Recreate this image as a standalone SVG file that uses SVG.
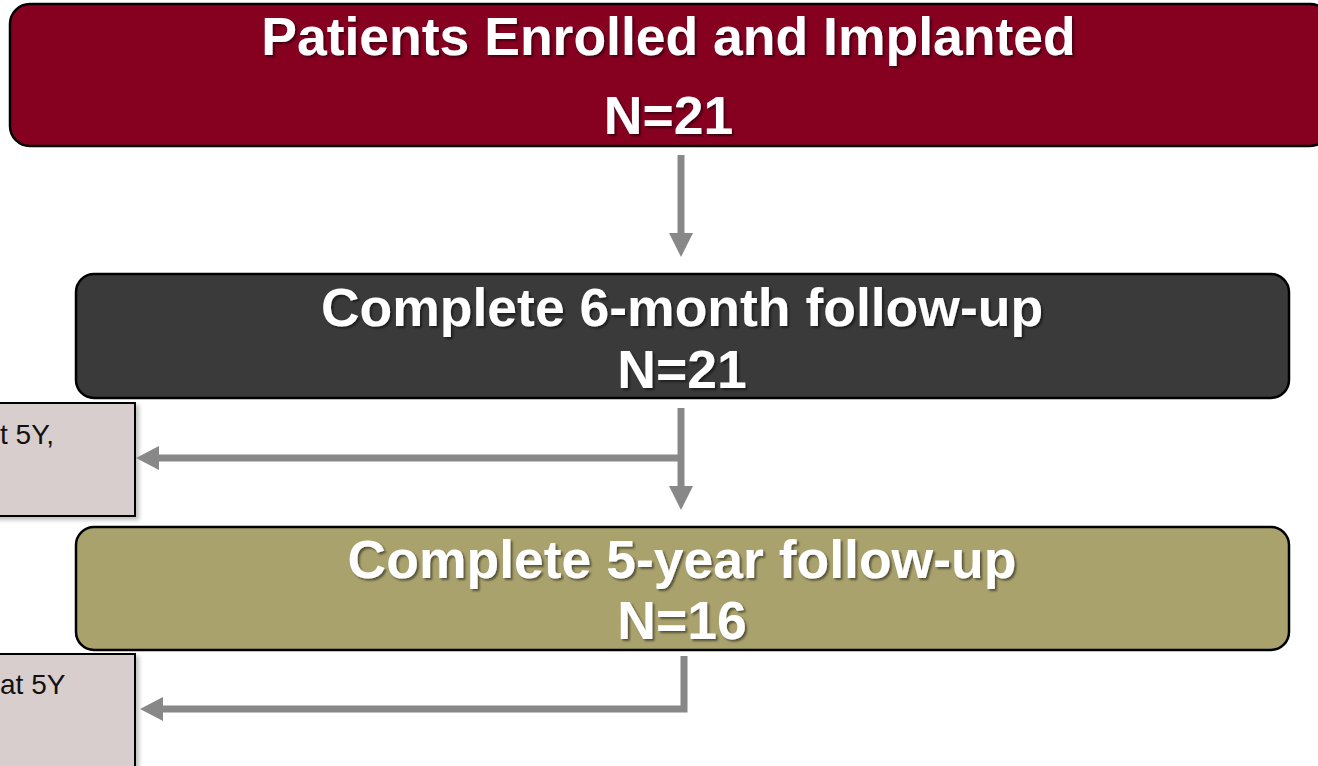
<svg xmlns="http://www.w3.org/2000/svg" width="1318" height="766" viewBox="0 0 1318 766">
<defs>
<filter id="ts" x="-5%" y="-20%" width="110%" height="140%">
<feDropShadow dx="2" dy="2" stdDeviation="1" flood-color="#000" flood-opacity="0.5"/>
</filter>
<filter id="bs" x="-5%" y="-5%" width="115%" height="115%">
<feDropShadow dx="3" dy="3" stdDeviation="2" flood-color="#000" flood-opacity="0.25"/>
</filter>
<style>
.big{font-family:"Liberation Sans",Arial,sans-serif;font-weight:bold;font-size:53.5px;fill:#ffffff;text-anchor:middle}
.sm{font-family:"Liberation Sans",Arial,sans-serif;font-size:28px;fill:#111111}
.box{stroke:#000;stroke-width:2.5}
.side{fill:#d9cece;stroke:#000;stroke-width:2}
.conn{stroke:#888888;stroke-width:7;fill:none}
.head{fill:#888888}
</style>
</defs>
<rect width="1318" height="766" fill="#ffffff"/>
<g id="n1">
<rect class="box" x="10" y="4" width="1320" height="142" rx="20" fill="#860020"/>
<text class="big" x="668.5" y="55" filter="url(#ts)">Patients Enrolled and Implanted</text>
<text class="big" x="668.5" y="134" filter="url(#ts)">N=21</text>
</g>
<g id="n2">
<rect class="box" x="76" y="274" width="1213" height="124" rx="18" fill="#3a3a3a"/>
<text class="big" x="682" y="326" filter="url(#ts)">Complete 6-month follow-up</text>
<text class="big" x="682" y="388" filter="url(#ts)">N=21</text>
</g>
<g id="n3">
<rect class="box" x="76" y="527" width="1213" height="123" rx="18" fill="#aaa26d"/>
<text class="big" x="682" y="578" filter="url(#ts)">Complete 5-year follow-up</text>
<text class="big" x="682" y="639" filter="url(#ts)">N=16</text>
</g>
<g id="n4">
<rect class="side" x="-10" y="403" width="145" height="113" filter="url(#bs)"/>
<text class="sm" x="0" y="444">t 5Y,</text>
</g>
<g id="n5">
<rect class="side" x="-10" y="654" width="145" height="120" filter="url(#bs)"/>
<text class="sm" x="0" y="694">at 5Y</text>
</g>
<g id="connectors">
<line class="conn" x1="681" y1="155" x2="681" y2="235"/>
<polygon class="head" points="669,233 693,233 681,257"/>
<line class="conn" x1="681" y1="408" x2="681" y2="488"/>
<polygon class="head" points="669,486 693,486 681,510"/>
<line class="conn" x1="684" y1="458" x2="157" y2="458"/>
<polygon class="head" points="159,446 159,470 136,458"/>
<polyline class="conn" points="684,656 684,709 160,709"/>
<polygon class="head" points="163,697 163,721 140,709"/>
</g>
</svg>
